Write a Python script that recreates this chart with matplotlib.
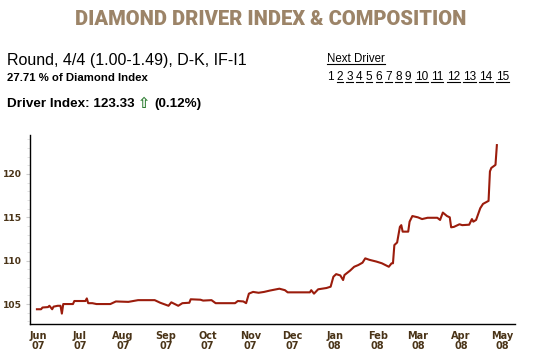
import matplotlib
matplotlib.use('Agg')
import matplotlib.pyplot as plt
import matplotlib.dates as mdates
from matplotlib.lines import Line2D
import pandas as pd

dates = ['2007-05-31', '2007-06-03', '2007-06-04', '2007-06-08', '2007-06-09', '2007-06-11',
         '2007-06-12', '2007-06-15', '2007-06-17', '2007-06-18', '2007-06-19', '2007-06-26',
         '2007-06-27', '2007-07-05', '2007-07-06', '2007-07-07', '2007-07-10', '2007-07-13',
         '2007-07-23', '2007-07-27', '2007-08-05', '2007-08-12', '2007-08-24', '2007-08-28',
         '2007-09-03', '2007-09-05', '2007-09-10', '2007-09-13', '2007-09-18', '2007-09-19',
         '2007-09-26', '2007-09-28', '2007-10-04', '2007-10-07', '2007-10-21', '2007-10-23',
         '2007-10-27', '2007-10-29', '2007-10-31', '2007-11-03', '2007-11-07', '2007-11-11',
         '2007-11-15', '2007-11-22', '2007-11-26', '2007-11-28', '2007-12-14', '2007-12-15',
         '2007-12-17', '2007-12-20', '2007-12-26', '2007-12-29', '2007-12-31', '2008-01-02',
         '2008-01-05', '2008-01-07', '2008-01-08', '2008-01-12', '2008-01-15', '2008-01-18',
         '2008-01-21', '2008-01-23', '2008-01-26', '2008-01-31', '2008-02-04', '2008-02-09',
         '2008-02-11', '2008-02-12', '2008-02-13', '2008-02-15', '2008-02-17', '2008-02-18',
         '2008-02-19', '2008-02-23', '2008-02-24', '2008-02-26', '2008-03-01', '2008-03-04',
         '2008-03-08', '2008-03-15', '2008-03-17', '2008-03-19', '2008-03-22', '2008-03-24',
         '2008-03-25', '2008-03-27', '2008-03-31', '2008-04-02', '2008-04-07', '2008-04-09',
         '2008-04-10', '2008-04-12', '2008-04-15', '2008-04-17', '2008-04-21', '2008-04-22',
         '2008-04-23', '2008-04-26', '2008-04-27']
index_vals = [104.4, 104.4, 104.6, 104.65, 104.8, 104.4,
              104.7, 104.8, 104.8, 103.9, 105.0, 105.0,
              105.35, 105.35, 105.65, 105.1, 105.1, 105.0,
              105.0, 105.3, 105.25, 105.45, 105.45, 105.15,
              104.8, 105.2, 104.8, 105.1, 105.15, 105.55,
              105.5, 105.4, 105.45, 105.1, 105.1, 105.35,
              105.3, 105.1, 106.2, 106.4, 106.3, 106.4,
              106.55, 106.77, 106.6, 106.35, 106.35, 106.6,
              106.2, 106.7, 106.85, 107.0, 108.15, 108.45,
              108.3, 107.77, 108.35, 108.85, 109.3, 109.5,
              109.77, 110.27, 110.1, 109.9, 109.7, 109.3,
              109.7, 109.7, 111.8, 112.1, 113.9, 114.1,
              113.35, 113.35, 114.5, 115.15, 115.0, 114.8,
              114.95, 114.95, 114.7, 115.55, 115.15, 115.0,
              113.85, 113.9, 114.2, 114.1, 114.15, 114.8,
              114.5, 114.7, 116.05, 116.55, 116.9, 120.3,
              120.7, 121.05, 123.33]
y_ticks = [105, 110, 115, 120]

title = 'DIAMOND DRIVER INDEX & COMPOSITION'
subtitle = 'Round, 4/4 (1.00-1.49), D-K, IF-I1'
share_text = '27.71 % of Diamond Index'
index_text = 'Driver Index: 123.33'
change_text = '(0.12%)'
driver_numbers = [str(i) for i in range(1, 16)]

brown = '#4a3418'
fig = plt.figure(figsize=(5.33, 3.58), dpi=100)
body = ['Liberation Sans', 'DejaVu Sans']

fig.text(0.508, 0.945, title, ha='center', va='center', fontsize=14.5,
         fontweight='black', color='#9c8468', family=['Roboto', 'DejaVu Sans'])
fig.text(0.013, 0.83, subtitle, fontsize=11.5, family=body, va='center')
fig.text(0.013, 0.783, share_text, fontsize=8.2, fontweight='bold', family=body, va='center')
t_idx = fig.text(0.013, 0.71, index_text, fontsize=9.7, fontweight='bold', family=body, va='center')
t_next = fig.text(0.613, 0.834, 'Next Driver', fontsize=8.3, family=body, va='center')

fig.canvas.draw()
r = fig.canvas.get_renderer()
inv = fig.transFigure.inverted()


def underline(t):
    bb = t.get_window_extent(r)
    (x0, y0), (x1, _) = inv.transform([[bb.x0, bb.y0], [bb.x1, bb.y0]])
    fig.add_artist(Line2D([x0, x1], [y0 + 0.003, y0 + 0.003], lw=0.8, color='black',
                          transform=fig.transFigure))


underline(t_next)

# arrow and change after the index text
bb = t_idx.get_window_extent(r)
xa = inv.transform([[bb.x1, bb.y0]])[0][0]
t_arr = fig.text(xa + 0.007, 0.71, '\u21e7', fontsize=10.5, color='#2e7d32',
                 fontweight='bold', family=['DejaVu Sans'], va='center')
fig.canvas.draw()
bb = t_arr.get_window_extent(r)
xa = inv.transform([[bb.x1, bb.y0]])[0][0]
fig.text(xa + 0.007, 0.71, change_text, fontsize=9.7, fontweight='bold', family=body, va='center')

# numbered links
x = 0.613
for n in driver_numbers:
    t = fig.text(x, 0.784, n, fontsize=8.5, family=body, va='center')
    fig.canvas.draw()
    if n != '1':
        underline(t)
    bb = t.get_window_extent(r)
    x = inv.transform([[bb.x1 + 3.2, bb.y0]])[0][0]

ax = fig.add_axes([0.0563, 0.095, 0.9097, 0.528])
d = pd.to_datetime(dates)
ax.plot(d, index_vals, color='#9b1c0c', lw=1.5)

ax.set_xlim(pd.Timestamp('2007-05-26'), pd.Timestamp('2008-05-10'))
ax.set_ylim(102.7, 124.5)
ax.set_yticks(y_ticks)
ax.set_yticks(range(103, 125), minor=True)
ax.xaxis.set_major_locator(mdates.MonthLocator())
ax.xaxis.set_major_formatter(mdates.DateFormatter('%b\n%y'))

for s in ['top', 'right']:
    ax.spines[s].set_visible(False)
for s in ['left', 'bottom']:
    ax.spines[s].set_color('black')
    ax.spines[s].set_linewidth(1.0)

ax.tick_params(axis='y', which='major', length=3, color='#cccccc', labelsize=6.6,
               labelcolor=brown, pad=3)
ax.tick_params(axis='y', which='minor', length=2, color='#dddddd')
ax.tick_params(axis='x', length=0, labelsize=7, labelcolor=brown, pad=5)
for lab in ax.get_xticklabels() + ax.get_yticklabels():
    lab.set_fontweight('bold')
    lab.set_family('DejaVu Sans')
for lab in ax.get_xticklabels():
    lab.set_linespacing(0.95)

fig.savefig('out.png', dpi=100)
